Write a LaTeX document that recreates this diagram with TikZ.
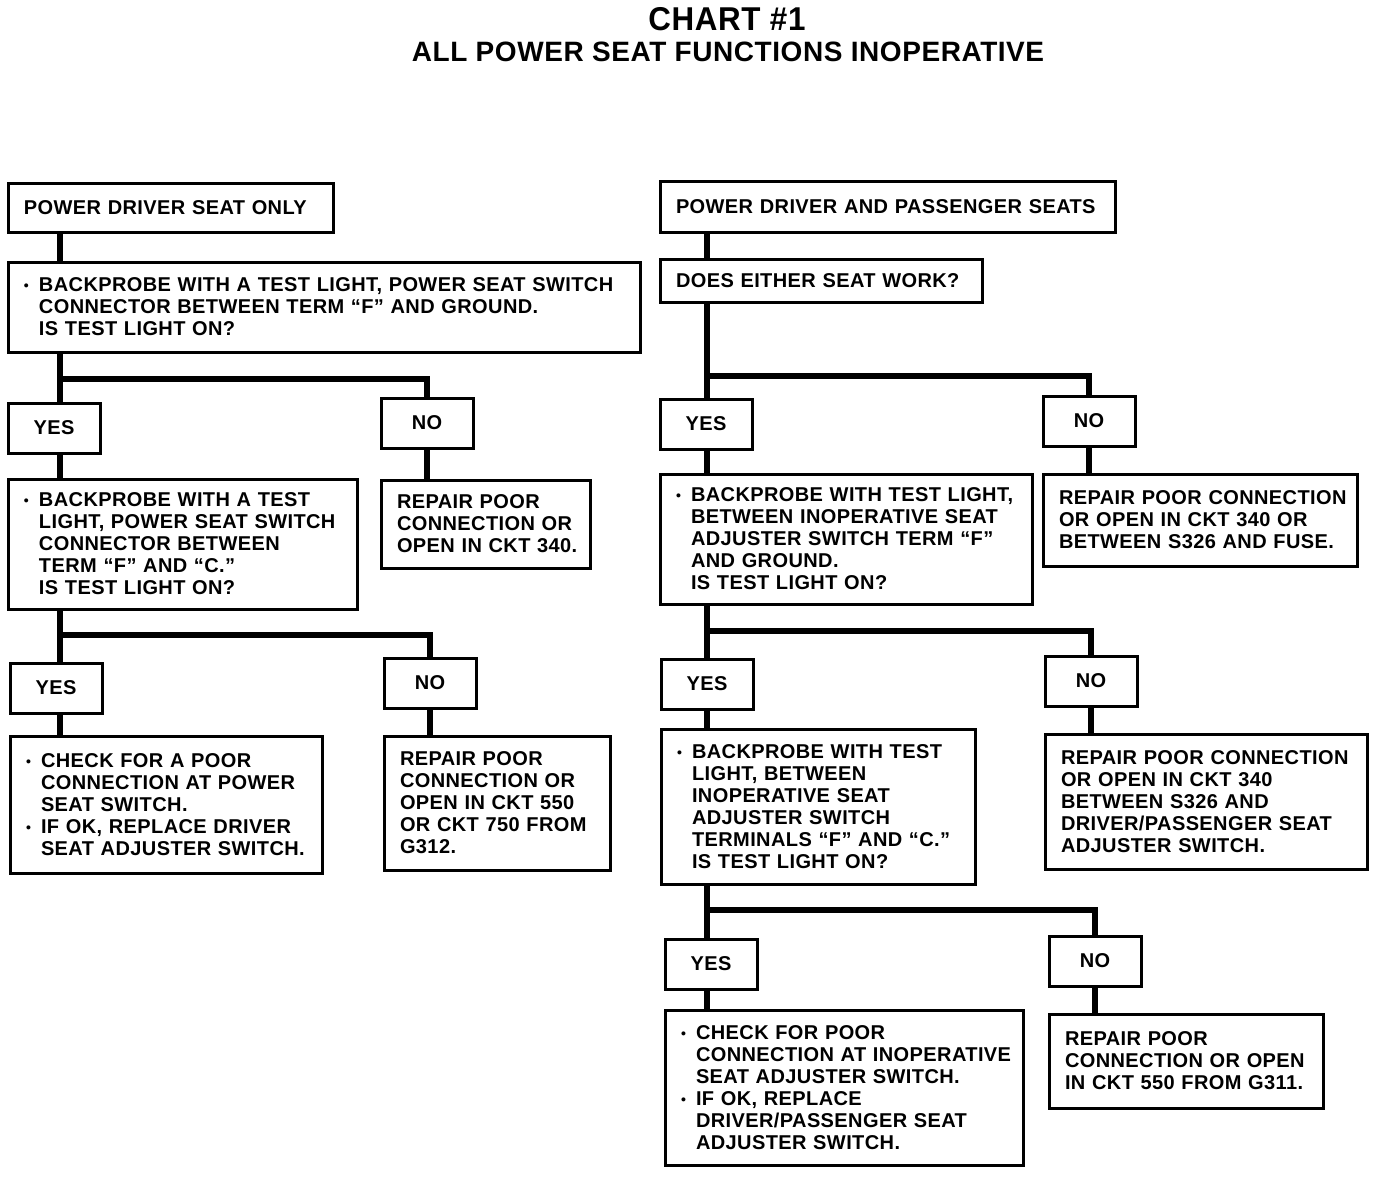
\documentclass[tikz,border=0pt]{standalone}
\usepackage{fontspec}
\setmainfont{Liberation Sans}[LetterSpace=2.0]
\usepackage{tikz}
\usetikzlibrary{positioning}

\newcommand{\bodyfont}{\fontsize{20}{22}\selectfont\bfseries}
\newcommand{\bitem}{\makebox[15pt][l]{\raisebox{1pt}{\scalebox{0.7}{\textbullet}}}}
\newcommand{\bskip}{\hspace*{15pt}}

\begin{document}
\begin{tikzpicture}[x=1pt,y=-1pt,font=\bodyfont]
	\tikzstyle{box}=[draw=black,line width=3pt,inner xsep=0pt,inner ysep=0pt,outer sep=0pt,
		align=left,anchor=north west,execute at begin node={\leftskip=16pt}]
	\tikzstyle{ans}=[draw=black,line width=3pt,outer sep=0pt,minimum width=92pt,
		minimum height=50pt,anchor=north west]
	\tikzstyle{link}=[line width=6pt]

	\useasboundingbox (0,0) rectangle (1392,1176);

	\node (title) at (727,19) {\fontsize{33}{33}\selectfont\scalebox{0.95}[1]{CHART \#1}};
	\node (subtitle) at (728,52) {\fontsize{28}{28}\selectfont ALL POWER SEAT FUNCTIONS INOPERATIVE};

	% driver seat only
	\node[box,text width=325pt,minimum height=49pt] (A1) at (8,183) {POWER DRIVER SEAT ONLY};
	\node[box,text width=632pt,minimum height=90pt,below right=30pt and 0pt of A1.south west] (A2)
		{\bitem BACKPROBE WITH A TEST LIGHT, POWER SEAT SWITCH\\
		 \bskip CONNECTOR BETWEEN TERM “F” AND GROUND.\\
		 \bskip IS TEST LIGHT ON?};
	\node[ans,below right=51pt and 0pt of A2.south west] (Y1) {YES};
	\node[ans,below right=46pt and 373pt of A2.south west] (N1) {NO};
	\node[box,text width=349pt,minimum height=130pt,below right=26pt and 0pt of Y1.south west] (A3)
		{\bitem BACKPROBE WITH A TEST\\
		 \bskip LIGHT, POWER SEAT SWITCH\\
		 \bskip CONNECTOR BETWEEN\\
		 \bskip TERM “F” AND “C.”\\
		 \bskip IS TEST LIGHT ON?};
	\node[box,text width=209pt,minimum height=88pt,below right=32pt and 0pt of N1.south west] (R1)
		{REPAIR POOR\\ CONNECTION OR\\ OPEN IN CKT 340.};
	\node[ans,below right=54pt and 2pt of A3.south west] (Y2) {YES};
	\node[ans,below right=49pt and 376pt of A3.south west] (N2) {NO};
	\node[box,text width=312pt,minimum height=137pt,below right=23pt and 0pt of Y2.south west] (A4)
		{\bitem CHECK FOR A POOR\\
		 \bskip CONNECTION AT POWER\\
		 \bskip SEAT SWITCH.\\
		 \bitem IF OK, REPLACE DRIVER\\
		 \bskip SEAT ADJUSTER SWITCH.};
	\node[box,text width=226pt,minimum height=134pt,below right=28pt and 0pt of N2.south west] (R2)
		{REPAIR POOR\\ CONNECTION OR\\ OPEN IN CKT 550\\ OR CKT 750 FROM\\ G312.};

	% driver and passenger seats
	\node[box,text width=455pt,minimum height=51pt] (B1) at (660,181) {POWER DRIVER AND PASSENGER SEATS};
	\node[box,text width=322pt,minimum height=43pt,below right=27pt and 0pt of B1.south west] (B2)
		{DOES EITHER SEAT WORK?};
	\node[ans,below right=97pt and 0pt of B2.south west] (Y3) {YES};
	\node[ans,below right=94pt and 383pt of B2.south west] (N3) {NO};
	\node[box,text width=372pt,minimum height=130pt,below right=25pt and 0pt of Y3.south west] (B3)
		{\bitem BACKPROBE WITH TEST LIGHT,\\
		 \bskip BETWEEN INOPERATIVE SEAT\\
		 \bskip ADJUSTER SWITCH TERM “F”\\
		 \bskip AND GROUND.\\
		 \bskip IS TEST LIGHT ON?};
	\node[box,text width=314pt,minimum height=92pt,below right=28pt and 0pt of N3.south west] (R3)
		{REPAIR POOR CONNECTION\\ OR OPEN IN CKT 340 OR\\ BETWEEN S326 AND FUSE.};
	\node[ans,below right=55pt and 1pt of B3.south west] (Y4) {YES};
	\node[ans,below right=52pt and 385pt of B3.south west] (N4) {NO};
	\node[box,text width=314pt,minimum height=155pt,below right=20pt and 0pt of Y4.south west] (B4)
		{\bitem BACKPROBE WITH TEST\\
		 \bskip LIGHT, BETWEEN\\
		 \bskip INOPERATIVE SEAT\\
		 \bskip ADJUSTER SWITCH\\
		 \bskip TERMINALS “F” AND “C.”\\
		 \bskip IS TEST LIGHT ON?};
	\node[box,text width=322pt,minimum height=135pt,below right=28pt and 0pt of N4.south west] (R4)
		{REPAIR POOR CONNECTION\\ OR OPEN IN CKT 340\\ BETWEEN S326 AND\\ DRIVER/PASSENGER SEAT\\ ADJUSTER SWITCH.};
	\node[ans,below right=55pt and 4pt of B4.south west] (Y5) {YES};
	\node[ans,below right=52pt and 388pt of B4.south west] (N5) {NO};
	\node[box,text width=358pt,minimum height=155pt,below right=21pt and 0pt of Y5.south west] (B5)
		{\bitem CHECK FOR POOR\\
		 \bskip CONNECTION AT INOPERATIVE\\
		 \bskip SEAT ADJUSTER SWITCH.\\
		 \bitem IF OK, REPLACE\\
		 \bskip DRIVER/PASSENGER SEAT\\
		 \bskip ADJUSTER SWITCH.};
	\node[box,text width=274pt,minimum height=94pt,below right=28pt and 0pt of N5.south west] (R5)
		{REPAIR POOR\\ CONNECTION OR OPEN\\ IN CKT 550 FROM G311.};

	% connectors
	\coordinate (Lx) at (60,0);
	\coordinate (Rx) at (707,0);

	\draw[link] (A1.south -| Lx) -- (A2.north -| Lx);
	\draw[link] (A2.south -| Lx) -- (Y1.north -| Lx);
	\draw[link] (A2.south -| Lx) ++(0,27) -| (N1.north);
	\draw[link] (Y1.south -| Lx) -- (A3.north -| Lx);
	\draw[link] (N1.south) -- (N1.south |- R1.north);
	\draw[link] (A3.south -| Lx) -- (Y2.north -| Lx);
	\draw[link] (A3.south -| Lx) ++(0,26) -| (N2.north);
	\draw[link] (Y2.south -| Lx) -- (A4.north -| Lx);
	\draw[link] (N2.south) -- (N2.south |- R2.north);

	\draw[link] (B1.south -| Rx) -- (B2.north -| Rx);
	\draw[link] (B2.south -| Rx) -- (Y3.north -| Rx);
	\draw[link] (B2.south -| Rx) ++(0,74) -| (N3.north);
	\draw[link] (Y3.south -| Rx) -- (B3.north -| Rx);
	\draw[link] (N3.south) -- (N3.south |- R3.north);
	\draw[link] (B3.south -| Rx) -- (Y4.north -| Rx);
	\draw[link] (B3.south -| Rx) ++(0,27) -| (N4.north);
	\draw[link] (Y4.south -| Rx) -- (B4.north -| Rx);
	\draw[link] (N4.south) -- (N4.south |- R4.north);
	\draw[link] (B4.south -| Rx) -- (Y5.north -| Rx);
	\draw[link] (B4.south -| Rx) ++(0,26) -| (N5.north);
	\draw[link] (Y5.south -| Rx) -- (B5.north -| Rx);
	\draw[link] (N5.south) -- (N5.south |- R5.north);
\end{tikzpicture}
\end{document}
